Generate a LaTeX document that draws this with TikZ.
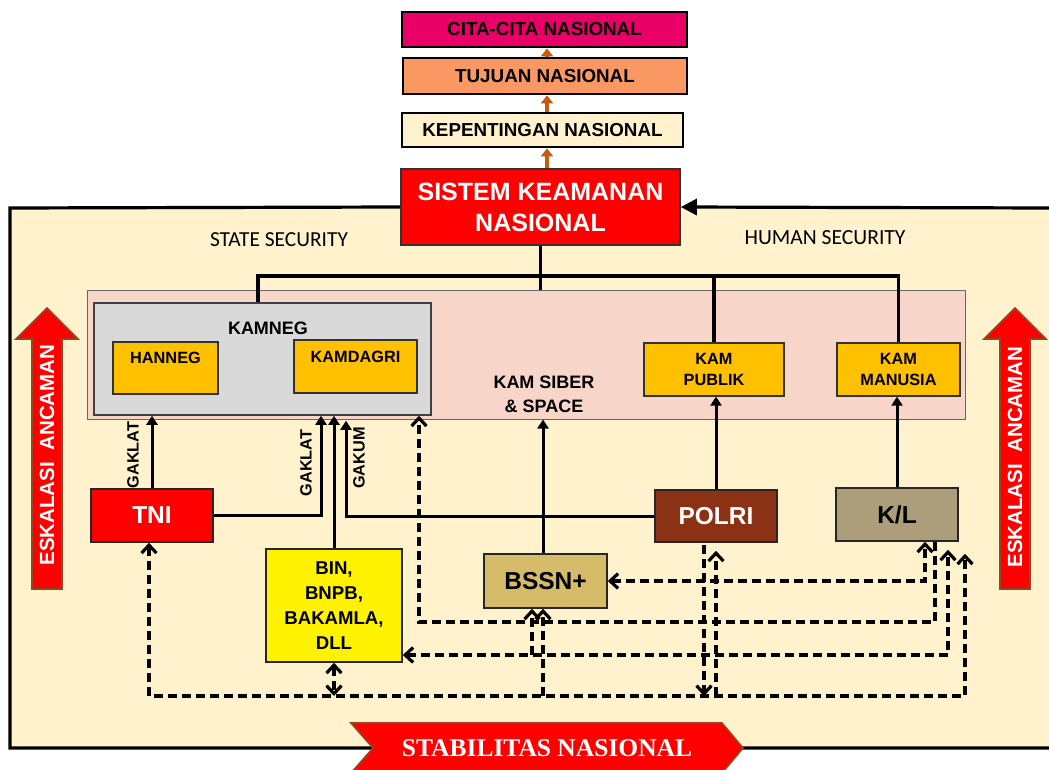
\documentclass[tikz,border=0pt]{standalone}
\usepackage{fontspec}
\setmainfont{Liberation Sans}
\newfontfamily\calibrifont{Carlito}
\newfontfamily\timesfont{Liberation Serif}
\usetikzlibrary{arrows.meta}

\definecolor{framecream}{RGB}{255,242,204}
\definecolor{panelpink}{RGB}{247,214,201}
\definecolor{kamneggray}{RGB}{217,217,217}
\definecolor{kamorange}{RGB}{255,192,0}
\definecolor{citapink}{RGB}{232,0,102}
\definecolor{tujuansalmon}{RGB}{250,152,100}
\definecolor{polribrown}{RGB}{139,49,20}
\definecolor{kltaupe}{RGB}{173,158,123}
\definecolor{bssngold}{RGB}{214,188,106}
\definecolor{topbrown}{RGB}{197,90,17}
\definecolor{edgebrown}{RGB}{150,70,30}

\newcommand{\fsz}[2]{\fontsize{#1}{#2}\selectfont}

\begin{document}
\begin{tikzpicture}
[every node/.style={inner sep=0pt},
 topbox/.style={rectangle, draw=black, line width=2.8pt, font=\fsz{18.8}{22}\bfseries},
 kambox/.style={rectangle, draw=black!80, line width=1.3pt, fill=kamorange, align=center, font=\fsz{16.3}{20}\bfseries},
 actor/.style={rectangle, draw=black!85, line width=1.6pt, font=\fsz{24.5}{29}\bfseries},
 tree/.style={line width=3.2pt, black},
 solidarr/.style={line width=3pt, black, -{Triangle[length=9pt,width=11pt]}},
 dashline/.style={line width=3.2pt, black, dash pattern=on 9pt off 5pt, >={Straight Barb[length=8pt,width=15pt]}},
 lbl/.style={rotate=90, font=\fsz{16.3}{19}\bfseries},
 eskarrow/.style={fill=red, draw=edgebrown, line width=1.6pt},
 eskText/.style={rotate=90, text=white, font=\fsz{20.5}{24}\bfseries},
 upbrown/.style={line width=3.2pt, topbrown, -{Triangle[length=8pt,width=12pt]}}]
\useasboundingbox (0pt,0pt) rectangle (1049pt,-770pt);

% frame
\fill[framecream] (10pt,-208pt) rectangle (1049pt,-748pt);
\coordinate (frameNE) at (1049pt,-208pt);
\coordinate (frameNW) at (10pt,-208pt);
\coordinate (frameSW) at (10pt,-748pt);
\coordinate (frameSE) at (1049pt,-748pt);

% top chain
\node (cita) [topbox, fill=citapink, minimum width=285pt, minimum height=35pt] at (544.5pt, -29.5pt) {CITA-CITA NASIONAL};
\node (tujuan) [topbox, fill=tujuansalmon, minimum width=284pt, minimum height=36pt] at (545pt, -76pt) {TUJUAN NASIONAL};
\node (kep) [topbox, fill=framecream, minimum width=281pt, minimum height=34pt] at (542.5pt, -130pt) {KEPENTINGAN NASIONAL};
\node (skn) [rectangle, draw=black!80, line width=1.6pt, fill=red, text=white, align=center, minimum width=279pt, minimum height=76pt, font=\fsz{25}{31}\bfseries] at (540.5pt, -207pt) {SISTEM KEAMANAN\\NASIONAL};

\draw [upbrown] ([xshift=6.5pt]skn.north) -- ([xshift=6.5pt]skn.north |- kep.south);
\draw [upbrown] ([xshift=6.5pt]skn.north |- kep.north) -- ([xshift=6.5pt]skn.north |- tujuan.south);
\draw [upbrown] ([xshift=6.5pt]skn.north |- tujuan.north) -- ([xshift=6.5pt]skn.north |- cita.south);

\draw [line width=3.2pt] (skn.west) -- (frameNW) -- (frameSW) -- (frameSE);
\draw [line width=3.2pt, -{Triangle[length=16pt,width=16pt]}] (frameNE) -- (skn.east);

\node (state) [font=\fsz{21.4}{25}\calibrifont] at (279pt, -240pt) {STATE SECURITY};
\node (human) [font=\fsz{21.6}{25}\calibrifont] at (825pt, -238pt) {HUMAN SECURITY};

% security domains
\node (kampanel) [rectangle, draw=black!60, line width=1pt, fill=panelpink, minimum width=878pt, minimum height=129pt] at (526pt, -354.5pt) {};
\node (kamneg) [rectangle, draw=black!75, line width=1.5pt, fill=kamneggray, minimum width=337pt, minimum height=112pt] at (262.5pt, -359pt) {};
\node (kamnegtxt) [font=\fsz{18}{22}\bfseries] at (268pt, -328pt) {KAMNEG};
\node (hanneg) [kambox, minimum width=105pt, minimum height=52pt] at (165.5pt, -368pt) {HANNEG\\\vphantom{H}};
\node (kamdagri) [kambox, minimum width=123pt, minimum height=53pt] at (355.5pt, -366.5pt) {KAMDAGRI\\\vphantom{H}};
\node (kampublik) [kambox, minimum width=140pt, minimum height=53pt, font=\fsz{16.3}{21}\bfseries] at (714pt, -369.5pt) {KAM\\PUBLIK};
\node (kammanusia) [kambox, minimum width=123pt, minimum height=53pt, font=\fsz{16.3}{21}\bfseries] at (898.5pt, -369.5pt) {KAM\\MANUSIA};
\node (kamsiber) [align=center, font=\fsz{18}{24}\bfseries] at (544pt, -394pt) {KAM SIBER\\\& SPACE};

\coordinate (bus) at (0pt, -276pt);
\draw [tree] (skn.south) -- (skn.south |- kampanel.north);
\draw [tree] ([xshift=-4.5pt]kamneg.north) |- (kammanusia.north |- bus) -- (kammanusia.north);
\draw [tree] (kampublik.north |- bus) -- (kampublik.north);

% actors
\node (tni) [actor, fill=red, text=white, minimum width=122pt, minimum height=53pt] at (152pt, -515.5pt) {TNI};
\node (polri) [actor, fill=polribrown, text=white, minimum width=122pt, minimum height=52pt] at (716pt, -516pt) {POLRI};
\node (kl) [actor, fill=kltaupe, minimum width=122pt, minimum height=53pt] at (897pt, -514.5pt) {K/L};
\node (bssn) [actor, fill=bssngold, minimum width=123pt, minimum height=54pt] at (545.5pt, -581pt) {BSSN+};
\node (bin) [rectangle, draw=black!85, line width=1.6pt, fill=yellow, align=center, minimum width=136pt, minimum height=113pt, font=\fsz{18.6}{25}\bfseries] at (334pt, -605.5pt) {BIN,\\BNPB,\\BAKAMLA,\\DLL};

% solid links
\draw [solidarr] (tni.north) -- (tni.north |- kamneg.south);
\draw [solidarr] (tni.east) -| ([xshift=58.5pt]kamneg.south);
\draw [solidarr] (bin.north) -- (bin.north |- kamneg.south);
\draw [solidarr] (polri.west) -| ([xshift=83.5pt, yshift=-5pt]kamneg.south);
\draw [solidarr] ([xshift=-2.5pt]bssn.north) -- ([xshift=-2.5pt]bssn.north |- kampanel.south);
\draw [solidarr] (polri.north) -- (polri.north |- kampublik.south);
\draw [solidarr] (kl.north) -- (kl.north |- kammanusia.south);

\node (gaklat1) [lbl] at (133pt, -455pt) {GAKLAT};
\node (gaklat2) [lbl] at (306pt, -463pt) {GAKLAT};
\node (gakum) [lbl] at (359pt, -458pt) {GAKUM};

% coordination lines
\coordinate (lvlA) at (0pt, -622pt);
\coordinate (lvlB) at (0pt, -655pt);
\coordinate (lvlC) at (0pt, -696pt);
\draw [dashline, <->] (bssn.east) -| ([xshift=28pt]kl.south);
\draw [dashline, ->] ([xshift=38pt]kl.south) |- ([xshift=156.5pt]kamneg.south |- lvlA) -- ([xshift=156.5pt]kamneg.south);
\draw [dashline, <->] (bin.east |- lvlB) -| ([xshift=51pt, yshift=-8pt]kl.south);
\draw [dashline, ->] ([xshift=-13.5pt]bssn.south |- lvlB) -- ([xshift=-13.5pt]bssn.south);
\draw [dashline, <->] ([xshift=-3pt]tni.south) |- ([xshift=68pt]kl.south |- lvlC) -- ([xshift=68pt, yshift=-12pt]kl.south);
\draw [dashline, <->] (bin.south) -- (bin.south |- lvlC);
\draw [dashline, ->] ([xshift=-2.5pt]bssn.south |- lvlC) -- ([xshift=-2.5pt]bssn.south);
\draw [dashline, ->] (polri.south |- lvlC) -- ([yshift=-8pt]polri.south);
\draw [dashline, ->] ([xshift=-12pt, yshift=-2pt]polri.south) -- ([xshift=-12pt]polri.south |- lvlC);

% escalation arrows
\draw [eskarrow] (32pt,-589pt) -- (32pt,-339pt) -- (16pt,-339pt) -- (47pt,-308pt) -- (78pt,-339pt) -- (62pt,-339pt) -- (62pt,-589pt) -- cycle;
\node (eskL) [eskText] at (47pt, -455pt) {ESKALASI\ \ ANCAMAN};
\draw [eskarrow] (1000pt,-589pt) -- (1000pt,-339pt) -- (984pt,-339pt) -- (1015pt,-308pt) -- (1046pt,-339pt) -- (1030pt,-339pt) -- (1030pt,-589pt) -- cycle;
\node (eskR) [eskText] at (1015pt, -457pt) {ESKALASI\ \ ANCAMAN};

% stability banner
\draw [fill=red, draw=edgebrown, line width=1.6pt] (351pt,-723pt) -- (722pt,-723pt) -- (743pt,-748pt) -- (722pt,-773pt) -- (351pt,-773pt) -- (373pt,-748pt) -- cycle;
\node (stabil) [text=white, font=\fsz{25.5}{30}\timesfont\bfseries] at (547pt, -748pt) {STABILITAS NASIONAL};
\end{tikzpicture}
\end{document}
